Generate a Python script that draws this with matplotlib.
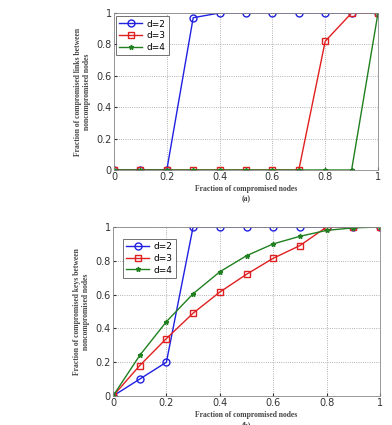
import numpy as np
import matplotlib
matplotlib.use('Agg')
import matplotlib.pyplot as plt

# data
x = [0, 0.1, 0.2, 0.3, 0.4, 0.5, 0.6, 0.7, 0.8, 0.9, 1.0]

links_d2 = [0, 0, 0, 0.97, 1, 1, 1, 1, 1, 1, 1]
links_d3 = [0, 0, 0, 0, 0, 0, 0, 0, 0.82, 1, 1]
links_d4 = [0, 0, 0, 0, 0, 0, 0, 0, 0, 0, 1]

keys_d2 = [0, 0.1, 0.2, 1, 1, 1, 1, 1, 1, 1, 1]
keys_d3 = [0, 0.18, 0.34, 0.49, 0.615, 0.72, 0.815, 0.89, 1.0, 1.0, 1.0]
keys_d4 = [0, 0.24, 0.44, 0.605, 0.735, 0.83, 0.9, 0.945, 0.98, 0.995, 1.0]

labels = ['d=2', 'd=3', 'd=4']
ticks = [0, 0.2, 0.4, 0.6, 0.8, 1]
tick_labels = ['0', '0.2', '0.4', '0.6', '0.8', '1']

fig = plt.figure(figsize=(3.92, 4.25), dpi=100)
W, H = 392.0, 425.0
ax1 = fig.add_axes([114 / W, 1 - 170 / H, (378 - 114) / W, (170 - 13) / H])
ax2 = fig.add_axes([113 / W, 1 - 396 / H, (380 - 113) / W, (396 - 227) / H])


def draw(ax, d2, d3, d4, ylab, xlab, legend_anchor):
    ax.plot(x, d2, color='#2020e0', marker='o', markersize=5, markerfacecolor='none',
            markeredgewidth=1.0, linewidth=1.0, label=labels[0])
    ax.plot(x, d3, color='#e02020', marker='s', markersize=5, markerfacecolor='none',
            markeredgewidth=1.0, linewidth=1.0, label=labels[1])
    ax.plot(x, d4, color='#208020', marker='*', markersize=3.5,
            linewidth=1.0, label=labels[2])
    ax.set_xlim(0, 1)
    ax.set_ylim(0, 1)
    ax.set_xticks(ticks)
    ax.set_xticklabels(tick_labels)
    ax.set_yticks(ticks)
    ax.set_yticklabels(tick_labels)
    ax.tick_params(labelsize=7, colors='#333333', length=2, direction='in', pad=1.5)
    ax.grid(True, linestyle=':', color='#999999', linewidth=0.6)
    for s in ax.spines.values():
        s.set_color('#888888')
        s.set_linewidth(0.6)
    ax.set_ylabel(ylab, fontfamily='Liberation Serif', fontweight='bold', fontsize=5.5,
                  color='#444444', labelpad=4)
    ax.set_xlabel(xlab, fontfamily='Liberation Serif', fontweight='bold', fontsize=5.5,
                  color='#444444', labelpad=2, linespacing=1.4)
    leg = ax.legend(loc='upper left', bbox_to_anchor=legend_anchor, fontsize=6.5,
                    fancybox=False, handlelength=2.6, borderpad=0.35, labelspacing=0.3,
                    handletextpad=0.5, borderaxespad=0.2)
    leg.get_frame().set_edgecolor('#333333')
    leg.get_frame().set_linewidth(0.6)


draw(ax1, links_d2, links_d3, links_d4,
     'Fraction of compromised links between\nnoncompromised nodes',
     'Fraction of compromised nodes\n(a)', (0.0, 0.99))
draw(ax2, keys_d2, keys_d3, keys_d4,
     'Fraction of compromised keys between\nnoncompromised nodes',
     'Fraction of compromised nodes\n(b)', (0.03, 0.94))

fig.savefig('out.png', dpi=100)
